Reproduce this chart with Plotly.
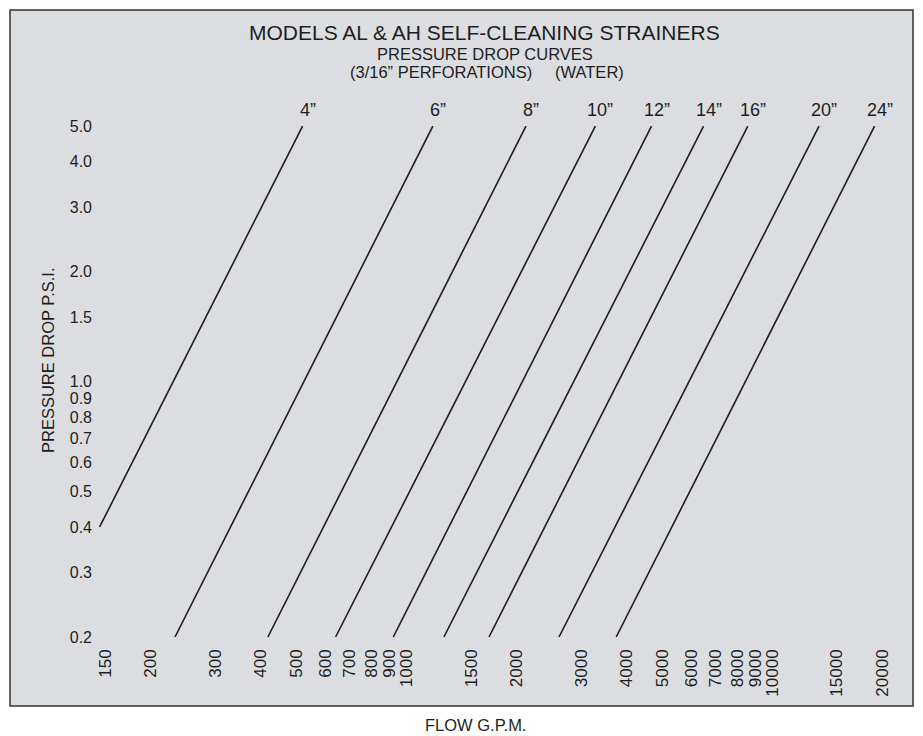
import math
import plotly.graph_objects as go

# ---- data ----
sizes = ['4\u201d', '6\u201d', '8\u201d', '10\u201d', '12\u201d', '14\u201d', '16\u201d', '20\u201d', '24\u201d']
flow_start = [145, 233, 418, 640, 920, 1265, 1680, 2610, 3740]      # G.P.M.
drop_start = [0.4, 0.2, 0.2, 0.2, 0.2, 0.2, 0.2, 0.2, 0.2]           # P.S.I.
flow_end = [520, 1180, 2120, 3280, 4670, 6480, 8560, 13400, 19000]   # G.P.M.
drop_end = [5.0, 5.0, 5.0, 5.0, 5.0, 5.0, 5.0, 5.0, 5.0]             # P.S.I.

x_ticks = [150, 200, 300, 400, 500, 600, 700, 800, 900, 1000, 1500, 2000,
           3000, 4000, 5000, 6000, 7000, 8000, 9000, 10000, 15000, 20000]
y_ticks = [0.2, 0.3, 0.4, 0.5, 0.6, 0.7, 0.8, 0.9, 1.0, 1.5, 2.0, 3.0, 4.0, 5.0]
y_tick_text = ['%.1f' % v for v in y_ticks]

FONT = 'Liberation Sans, Arial, Helvetica, sans-serif'
INK = '#1e1e1e'
BG = '#dcdde0'

# the page body has an 8px margin, so the figure is 8px smaller than the window
W, H = 915, 728
PL, PR, PT, PB = 97, 905, 100, 645          # plot area in window pixels
L, T = PL - 8, PT - 8
R, B = W - (PR - 8), H - (PB - 8)
PW, PH = PR - PL, PB - PT


def px_x(px):
    return (px - PL) / PW


def px_y(py):
    return (PB - py) / PH


fig = go.Figure()
for s, x0, y0, x1, y1 in zip(sizes, flow_start, drop_start, flow_end, drop_end):
    fig.add_trace(go.Scatter(x=[x0, x1], y=[y0, y1], mode='lines', name=s,
                             line=dict(color=INK, width=1.6), showlegend=False))
    fig.add_annotation(x=math.log10(x1), y=math.log10(y1), xref='x', yref='y',
                       text=s, showarrow=False,
                       xanchor='center', yanchor='middle', xshift=5, yshift=16,
                       font=dict(family=FONT, size=18, color=INK))

# grey panel with dark border
fig.add_shape(type='rect', xref='paper', yref='paper',
              x0=px_x(10), x1=px_x(913), y0=px_y(706), y1=px_y(10),
              fillcolor=BG, line=dict(color='#333333', width=1.5), layer='below')


def label(text, px, py, size, angle=0):
    fig.add_annotation(x=px_x(px), y=px_y(py), xref='paper', yref='paper',
                       text=text, showarrow=False, textangle=angle,
                       xanchor='center', yanchor='middle',
                       font=dict(family=FONT, size=size, color=INK))


label('MODELS AL &amp; AH SELF-CLEANING STRAINERS', 484, 33, 21)
label('PRESSURE DROP CURVES', 485, 54, 16.5)
label('(3/16\u201d PERFORATIONS)\u00a0\u00a0\u00a0\u00a0\u00a0(WATER)', 487, 72, 16.5)
label('PRESSURE DROP P.S.I.', 48, 360, 16.5, angle=-90)
label('FLOW G.P.M.', 475, 725, 16.5)

fig.update_xaxes(type='log', range=[2.15423, 4.36193], tickvals=x_ticks,
                 ticktext=[str(v) for v in x_ticks], tickangle=-90,
                 showgrid=False, zeroline=False, showline=False, ticks='',
                 tickfont=dict(family=FONT, size=17, color=INK))
fig.update_yaxes(type='log', range=[-0.72086, 0.77016], tickvals=y_ticks,
                 ticktext=y_tick_text, showgrid=False, zeroline=False,
                 showline=False, ticks='', ticklabelstandoff=4,
                 tickfont=dict(family=FONT, size=16, color=INK))

fig.update_layout(width=W, height=H, autosize=False,
                  margin=dict(l=L, r=R, t=T, b=B, pad=0),
                  paper_bgcolor='white', plot_bgcolor='rgba(0,0,0,0)',
                  showlegend=False, font=dict(family=FONT, color=INK))

fig.write_html('out.html')
